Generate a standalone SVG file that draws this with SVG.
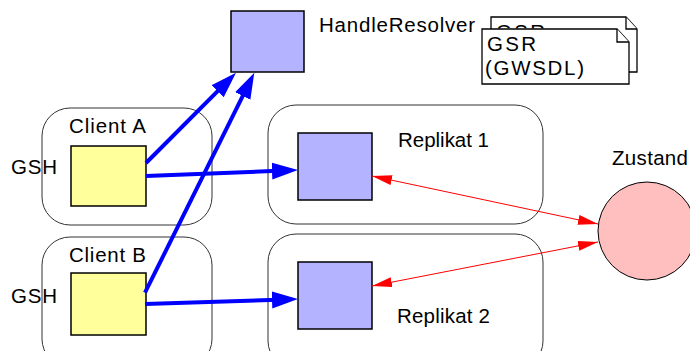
<svg xmlns="http://www.w3.org/2000/svg" width="690" height="351" viewBox="0 0 690 351">
<style>
text{font-family:"Liberation Sans",Arial,sans-serif;font-size:20.5px;fill:#000}
.box{fill:none;stroke:#333;stroke-width:1}
.blue{fill:#b3b3ff;stroke:#000;stroke-width:1.5}
.yel{fill:#ffff9c;stroke:#000;stroke-width:1.5}
.doc{fill:#fff;stroke:#000;stroke-width:1.3}
.ba{stroke:#0000ff;stroke-width:4;fill:none;marker-end:url(#bh)}
.ra{stroke:#ff0000;stroke-width:1;fill:none;marker-start:url(#rh);marker-end:url(#rh)}
</style>
<defs>
<marker id="bh" markerUnits="userSpaceOnUse" markerWidth="28" markerHeight="18" refX="6" refY="8.5" orient="auto" viewBox="0 0 28 18">
<path d="M0,0 L26,8.5 L0,17 z" fill="#0000ff"/>
</marker>
<marker id="rh" markerUnits="userSpaceOnUse" markerWidth="22" markerHeight="12" refX="20" refY="5" orient="auto-start-reverse" viewBox="0 0 22 12">
<path d="M0,0 L20,5 L0,10 z" fill="#ff0000"/>
</marker>
<clipPath id="backclip"><rect x="480" y="0" width="160" height="28.5"/></clipPath>
</defs>
<g id="clientA">
<rect class="box" x="42" y="108" width="170" height="117" rx="28"/>
<rect class="yel" x="71" y="146" width="75" height="60"/>
<text x="69" y="133" textLength="77" lengthAdjust="spacing">Client A</text>
<text x="11" y="174" textLength="46" lengthAdjust="spacing">GSH</text>
</g>
<g id="clientB">
<rect class="box" x="42" y="237" width="170" height="130" rx="28"/>
<rect class="yel" x="71" y="273" width="75" height="62"/>
<text x="69" y="262" textLength="77" lengthAdjust="spacing">Client B</text>
<text x="11" y="303" textLength="46" lengthAdjust="spacing">GSH</text>
</g>
<g id="handleResolver">
<rect class="blue" x="231" y="11" width="73" height="61"/>
<text x="319" y="32" textLength="156" lengthAdjust="spacing">HandleResolver</text>
</g>
<g id="gsr">
<path class="doc" d="M491,17 L626,17 L637,29 L637,72 L491,72 z"/>
<path class="doc" d="M626,17 L626,29 L637,29"/>
<text x="496" y="39" textLength="49" lengthAdjust="spacing" clip-path="url(#backclip)">GSR</text>
<path class="doc" d="M482,29 L617,29 L629,42 L629,84 L482,84 z"/>
<path class="doc" d="M617,29 L617,42 L629,42"/>
<text x="487" y="51" textLength="49" lengthAdjust="spacing">GSR</text>
<text x="485" y="75" textLength="99" lengthAdjust="spacing">(GWSDL)</text>
</g>
<g id="replikat1">
<rect class="box" x="268" y="105" width="275" height="119" rx="28"/>
<rect class="blue" x="298" y="133" width="74" height="67"/>
<text x="398" y="147" textLength="91" lengthAdjust="spacing">Replikat 1</text>
</g>
<g id="replikat2">
<rect class="box" x="268" y="234" width="275" height="135" rx="28"/>
<rect class="blue" x="298" y="262" width="74" height="67"/>
<text x="397" y="323" textLength="93" lengthAdjust="spacing">Replikat 2</text>
</g>
<g id="zustand">
<circle cx="647" cy="231" r="49" fill="#ffbfbf" stroke="#000" stroke-width="1"/>
<text x="612" y="165" textLength="76" lengthAdjust="spacing">Zustand</text>
</g>
<g id="connectors">
<path class="ba" d="M146,163 L221.9,86.9"/>
<path class="ba" d="M145,292.7 L245.4,90.6"/>
<path class="ba" d="M146,176 L278,170.8"/>
<path class="ba" d="M145,304 L278,299.7"/>
<path class="ra" d="M372,176 L598,224"/>
<path class="ra" d="M372,286 L598,242"/>
</g>
</svg>
